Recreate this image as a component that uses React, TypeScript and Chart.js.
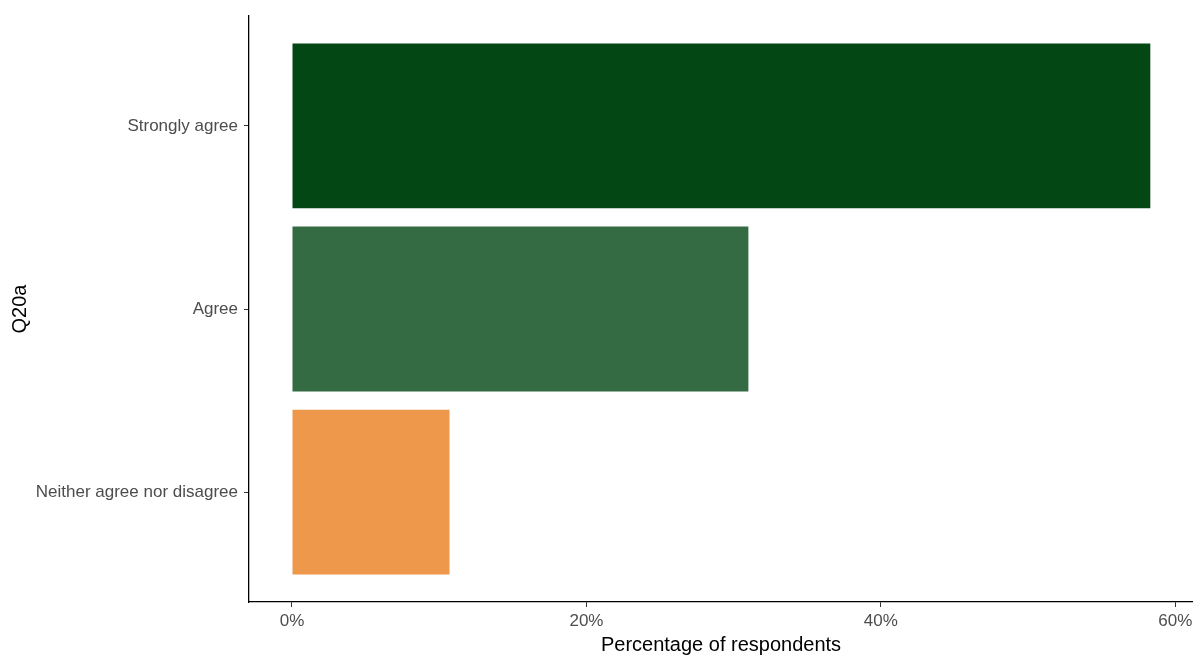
import React, { useEffect, useRef } from "react";
import { Chart, registerables } from "chart.js";

Chart.register(...registerables);

const CATEGORIES = ["Strongly agree", "Agree", "Neither agree nor disagree"];
const VALUES = [58.3, 31.0, 10.7];
const COLORS = ["#024714", "#346B43", "#ED984A"];
const X_TICKS = [0, 20, 40, 60];
const X_TITLE = "Percentage of respondents";
const Y_TITLE = "Q20a";

const FONT = "'Liberation Sans', Arial, sans-serif";

export default function App() {
  const ref = useRef<HTMLCanvasElement | null>(null);

  useEffect(() => {
    if (!ref.current) return;
    const chart = new Chart(ref.current, {
      type: "bar",
      data: {
        datasets: [
          {
            data: VALUES.map((v, i) => ({ x: v, y: i })),
            backgroundColor: COLORS,
            borderWidth: 0,
            categoryPercentage: 0.9,
            barPercentage: 1.0,
          },
        ],
      },
      options: {
        indexAxis: "y",
        animation: false,
        responsive: false,
        maintainAspectRatio: false,
        layout: { padding: { top: 16, right: 0, left: 0, bottom: 0 } },
        plugins: { legend: { display: false }, tooltip: { enabled: false } },
        scales: {
          x: {
            type: "linear",
            min: -2.92,
            max: 61.2,
            bounds: "data",
            afterBuildTicks: (scale: any) => {
              scale.ticks = X_TICKS.map((v) => ({ value: v }));
            },
            afterFit: (scale: any) => {
              scale.height = 53;
              scale.paddingLeft = 0;
              scale.paddingRight = 0;
            },
            ticks: {
              callback: (v: any) => v + "%",
              color: "#4D4D4D",
              font: { family: FONT, size: 17 },
              padding: 4,
              maxRotation: 0,
            },
            grid: {
              display: true,
              drawOnChartArea: false,
              drawTicks: true,
              tickLength: 5,
              tickColor: "#333333",
              tickWidth: 1,
            },
            border: { display: true, color: "#000000", width: 1.3 },
            title: {
              display: true,
              text: X_TITLE,
              color: "#000000",
              font: { family: FONT, size: 20, lineHeight: 1 },
              padding: 0,
            },
          },
          y: {
            type: "linear",
            min: -0.6,
            max: 2.6,
            bounds: "data",
            offset: false,
            reverse: true,
            afterBuildTicks: (scale: any) => {
              scale.ticks = CATEGORIES.map((_, i) => ({ value: i }));
            },
            afterFit: (scale: any) => {
              scale.width = 249;
              scale.paddingTop = 0;
              scale.paddingBottom = 0;
            },
            ticks: {
              callback: (v: any) => CATEGORIES[v as number],
              color: "#4D4D4D",
              font: { family: FONT, size: 17 },
              padding: 6,
            },
            grid: {
              display: true,
              offset: false,
              drawOnChartArea: false,
              drawTicks: true,
              tickLength: 5,
              tickColor: "#333333",
              tickWidth: 1,
            },
            border: { display: true, color: "#000000", width: 1.3 },
            title: {
              display: true,
              text: Y_TITLE,
              color: "#000000",
              font: { family: FONT, size: 20, lineHeight: 1.2 },
              padding: { top: 8, bottom: 0 },
            },
          },
        },
      },
    });
    return () => chart.destroy();
  }, []);

  return (
    <div style={{ position: "absolute", left: 0, top: 0, width: 1193, height: 655, background: "#fff" }}>
      <canvas ref={ref} width={1193} height={655} style={{ width: 1193, height: 655 }} />
    </div>
  );
}
